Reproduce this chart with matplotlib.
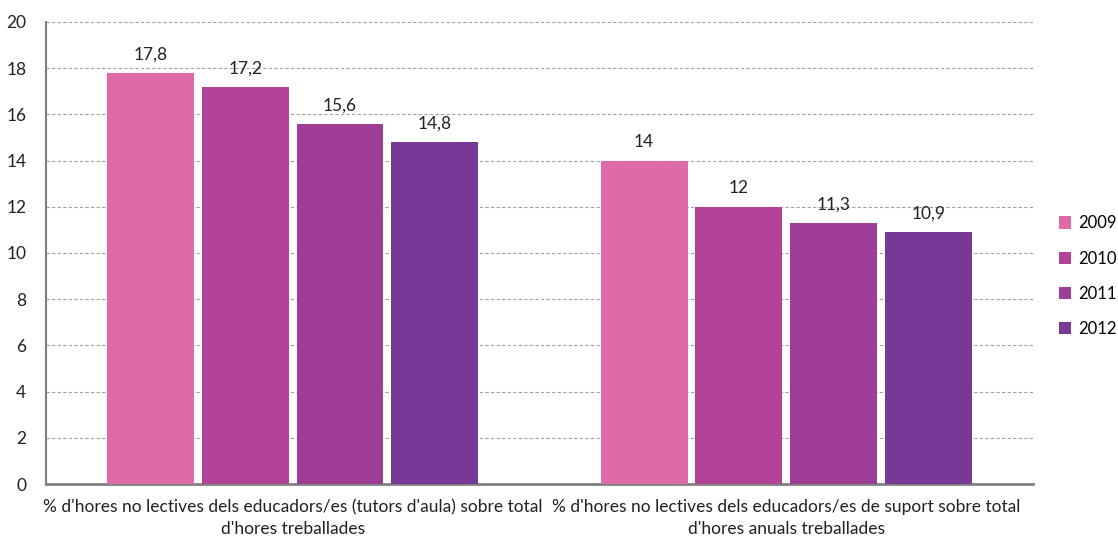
import numpy as np
import matplotlib.pyplot as plt

plt.rcParams['font.family'] = ['Lato', 'DejaVu Sans']

categories = ["% d'hores no lectives dels educadors/es (tutors d'aula) sobre total\nd'hores treballades",
              "% d'hores no lectives dels educadors/es de suport sobre total\nd'hores anuals treballades"]
years = ['2009', '2010', '2011', '2012']
values = {
    '2009': [17.8, 14.0],
    '2010': [17.2, 12.0],
    '2011': [15.6, 11.3],
    '2012': [14.8, 10.9],
}
colors = ['#DE6AA8', '#B44397', '#9D3D96', '#783896']

fig = plt.figure(figsize=(11.18, 5.36), dpi=100)
ax = fig.add_axes([0.041, 0.097, 0.883, 0.862])

x = np.arange(len(categories))
w = 0.176
step = 0.192
for i, yr in enumerate(years):
    pos = x + (i - 1.5) * step
    bars = ax.bar(pos, values[yr], width=w, color=colors[i], label=yr, zorder=3)
    for b, v in zip(bars, values[yr]):
        txt = ('%g' % v).replace('.', ',')
        ax.text(b.get_x() + b.get_width() / 2, v + 0.45, txt, ha='center', va='bottom',
                fontsize=12.5, color='#222222')

ax.set_xlim(-0.5, 1.5)
ax.set_ylim(0, 20)
ax.set_yticks(range(0, 21, 2))
ax.set_xticks(x)
ax.set_xticklabels(categories, fontsize=12.5, color='#222222', linespacing=1.45)
ax.tick_params(axis='y', length=0, labelsize=12.5, labelcolor='#222222', pad=14)
ax.tick_params(axis='x', length=0, pad=11)
ax.grid(axis='y', linestyle=(0, (3, 2)), color='#a0a0a0', linewidth=0.8, zorder=0)
for s in ['top', 'right']:
    ax.spines[s].set_visible(False)
ax.spines['left'].set_color('#808080')
ax.spines['left'].set_linewidth(1.5)
ax.spines['bottom'].set_color('#808080')
ax.spines['bottom'].set_linewidth(2)

ax.legend(loc='center left', bbox_to_anchor=(1.026, 0.45), frameon=False, fontsize=12,
          handlelength=0.75, handleheight=0.75, labelspacing=1.15, handletextpad=0.4,
          borderaxespad=0, borderpad=0)

fig.savefig('out.png', dpi=100)
